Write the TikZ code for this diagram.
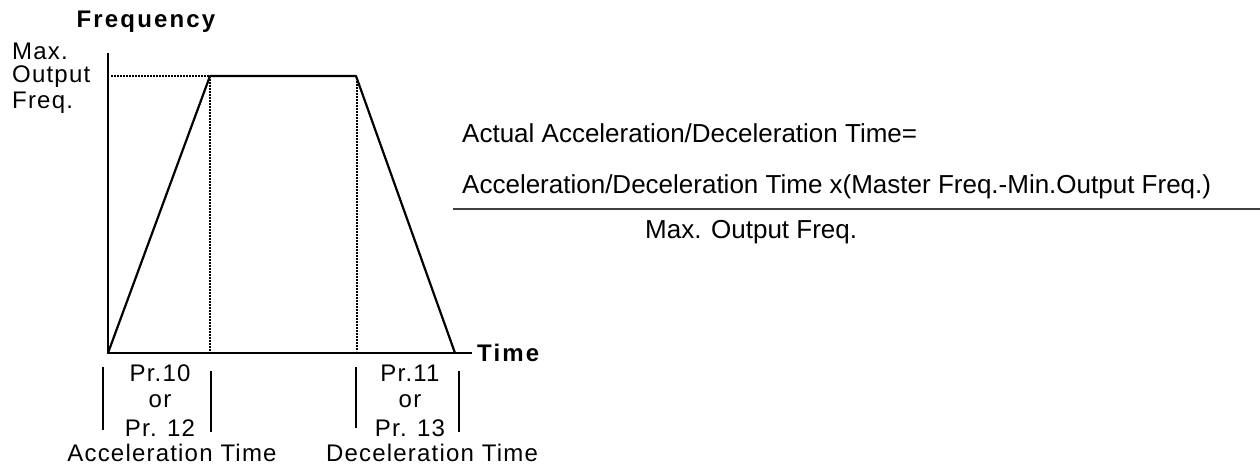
\documentclass[tikz,border=0pt]{standalone}
\usepackage{fontspec}
\setmainfont{Liberation Sans}
\newfontfamily\widefont[LetterSpace=5]{Liberation Sans}
\newfontfamily\widerfont[LetterSpace=9]{Liberation Sans}
\begin{document}
\begin{tikzpicture}[x=1pt,y=-1pt,
  axis/.style={line width=2pt},
  ramp/.style={line width=2.2pt},
  dots/.style={line width=2.4pt,dash pattern=on 2pt off 1pt},
  tick/.style={line width=2pt},
  lbl/.style={inner sep=0pt,font=\widefont\fontsize{24}{28}\selectfont},
  blbl/.style={inner sep=0pt,font=\widerfont\fontsize{24}{28}\selectfont\bfseries},
  eq/.style={inner sep=0pt,anchor=base west,font=\fontsize{26}{30}\selectfont}]
\useasboundingbox (0,0) rectangle (1260,466);
% coordinates
\coordinate (O) at (108,353);
\coordinate (Ytop) at (108,53);
\coordinate (Xend) at (472,353);
\coordinate (A) at (210,76);
\coordinate (B) at (356,76);
\coordinate (C) at (455,353);
\coordinate (Ystart) at (111,76);
\coordinate (Abot) at (210,351);
\coordinate (Bbot) at (357,351);
% axes
\draw[axis] (Ytop) -- (O) -- (Xend);
% curve
\draw[ramp,line join=round] (O) -- (A) -- (B) -- (C);
% dotted guides
\draw[dots] (Ystart) -- (A);
\draw[dots] (A) -- (Abot);
\draw[dots] (357,78) -- (Bbot);
% ticks
\coordinate (t1a) at (103,367); \coordinate (t1b) at (103,430);
\coordinate (t2a) at (211,371); \coordinate (t2b) at (211,432);
\coordinate (t3a) at (356,367); \coordinate (t3b) at (356,428);
\coordinate (t4a) at (459,371); \coordinate (t4b) at (459,432);
\draw[tick] (t1a) -- (t1b);
\draw[tick] (t2a) -- (t2b);
\draw[tick] (t3a) -- (t3b);
\draw[tick] (t4a) -- (t4b);
% labels
\node[blbl] (freq) at (146,22) {Frequency};
\node[blbl,anchor=west] (time) at (477,353) {Time};
\node[lbl,anchor=west] (max) at (12,51) {Max.};
\node[lbl,anchor=west] (out) at (12,77) {Output};
\node[lbl,anchor=west] (fr) at (12,103) {Freq.};
\node[lbl] (p10) at (160,373) {Pr.10};
\node[lbl] (or1) at (160,401) {or};
\node[lbl] (p12) at (160,428) {Pr. 12};
\node[lbl] (acc) at (172,453) {Acceleration Time};
\node[lbl] (p11) at (410,373) {Pr.11};
\node[lbl] (or2) at (410,401) {or};
\node[lbl] (p13) at (410,428) {Pr. 13};
\node[lbl] (dec) at (432,453) {Deceleration Time};
% formula
\node[eq] (e1) at (462,142) {Actual Acceleration/Deceleration Time=};
\node[eq] (e2) at (462,193) {Acceleration/Deceleration Time x(Master Freq.-Min.Output Freq.)};
\coordinate (f1) at (453,209); \coordinate (f2) at (1260,209);
\draw[line width=1.3pt,black!75] (f1) -- (f2);
\node[eq] (e3) at (645,238) {Max. Output Freq.};
\end{tikzpicture}
\end{document}
